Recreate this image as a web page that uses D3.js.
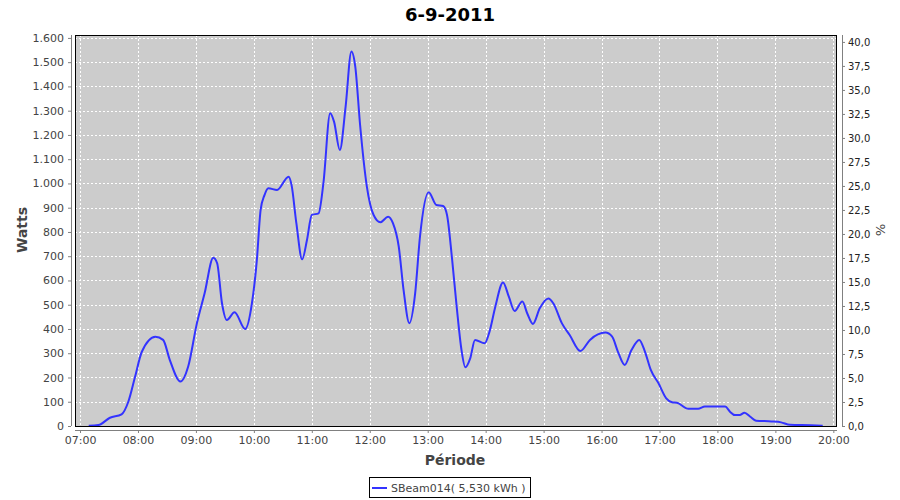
<!DOCTYPE html>
<html><head><meta charset="utf-8">
<script src="https://cdn.jsdelivr.net/npm/d3@7"></script>
<style>
html,body{margin:0;padding:0;background:#fff;}
svg{display:block;font-family:"DejaVu Sans",sans-serif;}
</style></head>
<body><svg id="c" width="900" height="500"></svg>
<script>
const title = "6-9-2011";
const seriesName = "SBeam014( 5,530 kWh )";
const times = ["07:09","07:19","07:31","07:43","07:50","07:57",
"08:04","08:18","08:26","08:33","08:44","08:52",
"09:01","09:09","09:18","09:22","09:27","09:32","09:40","09:51","09:58",
"10:03","10:07","10:11","10:15","10:24","10:36","10:39","10:44","10:50","10:55",
"11:00","11:07","11:12","11:19","11:23","11:29","11:35","11:41","11:45","11:50","11:57",
"12:04","12:11","12:19","12:24","12:30","12:35","12:41","12:47","12:52",
"13:01","13:09","13:16","13:20","13:25","13:30","13:35","13:39","13:44","13:49","13:59",
"14:04","14:10","14:18","14:24","14:30","14:38","14:43","14:49","14:56",
"15:05","15:10","15:19","15:27","15:38","15:48",
"16:04","16:11","16:17","16:24","16:31","16:39","16:45","16:51","16:59",
"17:07","17:13","17:18","17:30","17:40","17:47",
"18:08","18:13","18:18","18:23","18:28","18:34","18:40","18:56",
"19:06","19:15","19:37","19:49"];
const watts = [1,4,34,48,100,203,
306,368,355,272,183,245,
423,547,694,671,506,437,469,400,506,
680,891,952,980,973,1028,994,836,687,767,
870,877,1001,1289,1255,1138,1317,1544,1482,1241,987,
870,840,863,836,740,561,424,547,781,
964,911,907,870,698,492,313,242,279,355,341,
389,492,592,533,474,513,465,421,485,
526,506,423,375,309,355,
385,368,306,252,313,355,306,231,176,
114,98,96,71,71,80,
80,59,45,45,55,38,22,19,
15,5,3,1];
const xTickLabels = ["07:00","08:00","09:00","10:00","11:00","12:00","13:00","14:00","15:00","16:00","17:00","18:00","19:00","20:00"];
const leftTicks = [0,100,200,300,400,500,600,700,800,900,1000,1100,1200,1300,1400,1500,1600];
const rightTicks = [0,2.5,5,7.5,10,12.5,15,17.5,20,22.5,25,27.5,30,32.5,35,37.5,40];

const toMin = s => { const [h,m] = s.split(":").map(Number); return h*60+m; };
const data = times.map((t,i)=>({t:toMin(t), v:watts[i]}));

const svg = d3.select("#c");
const L=75, R=837, T=35, B=426;
const x = d3.scaleLinear().domain([414.8, 1203.8]).range([L,R]);
const y = d3.scaleLinear().domain([0, 1612]).range([B,T]);
const y2 = d3.scaleLinear().domain([0, 40.72]).range([B,T]);

// title
svg.append("text").attr("x",450).attr("y",21).attr("text-anchor","middle")
  .attr("font-size",18).attr("font-weight","bold").attr("fill","#000").text(title);

// plot bg
svg.append("rect").attr("x",L).attr("y",T).attr("width",R-L).attr("height",B-T).attr("fill","#cccccc");

// grid
const gg = svg.append("g").attr("stroke","#fff").attr("stroke-width",1).attr("stroke-dasharray","2,2").attr("shape-rendering","crispEdges");
leftTicks.forEach(v=>{ gg.append("line").attr("x1",L).attr("x2",R).attr("y1",Math.round(y(v))+0.5).attr("y2",Math.round(y(v))+0.5); });
xTickLabels.forEach(s=>{ const px=Math.round(x(toMin(s)))+0.5; gg.append("line").attr("x1",px).attr("x2",px).attr("y1",T).attr("y2",B); });

// line
const line = d3.line().x(d=>x(d.t)).y(d=>y(d.v)).curve(d3.curveMonotoneX);
svg.append("path").datum(data).attr("d",line).attr("fill","none").attr("stroke","#3333ff").attr("stroke-width",2).attr("stroke-linejoin","round");

// plot border
svg.append("rect").attr("x",L+0.5).attr("y",T+0.5).attr("width",R-L-1).attr("height",B-T).attr("fill","none").attr("stroke","#000").attr("stroke-width",1);

// left axis
const la = svg.append("g").attr("transform","translate(71,0)");
la.call(d3.axisLeft(y).tickValues(leftTicks).tickSize(3).tickPadding(4)
  .tickFormat(d=>d3.format(",")(d).replace(/,/g,".")));
// right axis
const ra = svg.append("g").attr("transform","translate(842,0)");
ra.call(d3.axisRight(y2).tickValues(rightTicks).tickSize(3).tickPadding(3)
  .tickFormat(d=>d3.format(".1f")(d).replace(".",",")));
// bottom axis
const ba = svg.append("g").attr("transform","translate(0,430)");
ba.call(d3.axisBottom(x).tickValues(xTickLabels.map(toMin)).tickSize(3).tickPadding(3)
  .tickFormat((d,i)=>xTickLabels[i]));

[la,ra,ba].forEach(a=>{
  a.select(".domain").attr("stroke","#808080");
  a.selectAll(".tick line").attr("stroke","#808080");
  a.selectAll(".tick text").attr("fill","#444").attr("font-family","DejaVu Sans, sans-serif");
});
la.select(".domain").attr("d","M0.5,"+T+"V"+B);
la.selectAll(".tick text").attr("font-size",11);
ra.select(".domain").attr("d","M0.5,"+T+"V"+B);
ra.selectAll(".tick text").attr("font-size",10).attr("fill","#222");
ba.select(".domain").attr("d","M"+L+",0.5H"+R);
ba.selectAll(".tick text").attr("font-size",11);

// axis labels
svg.append("text").attr("transform","translate(27,230) rotate(-90)").attr("text-anchor","middle")
  .attr("font-size",14).attr("font-weight","bold").attr("fill","#444").text("Watts");
svg.append("text").attr("transform","translate(876,230) rotate(90)").attr("text-anchor","middle")
  .attr("font-size",13).attr("fill","#444").text("%");
svg.append("text").attr("x",455).attr("y",465).attr("text-anchor","middle")
  .attr("font-size",14).attr("font-weight","bold").attr("fill","#444").text("Période");

// legend
const lg = svg.append("g");
lg.append("rect").attr("x",369.5).attr("y",477.5).attr("width",161).attr("height",20).attr("fill","#fff").attr("stroke","#000");
lg.append("line").attr("x1",372).attr("x2",387).attr("y1",488).attr("y2",488).attr("stroke","#3333ff").attr("stroke-width",2);
lg.append("text").attr("x",391).attr("y",492).attr("font-size",11).attr("fill","#444").text(seriesName);
</script></body></html>
